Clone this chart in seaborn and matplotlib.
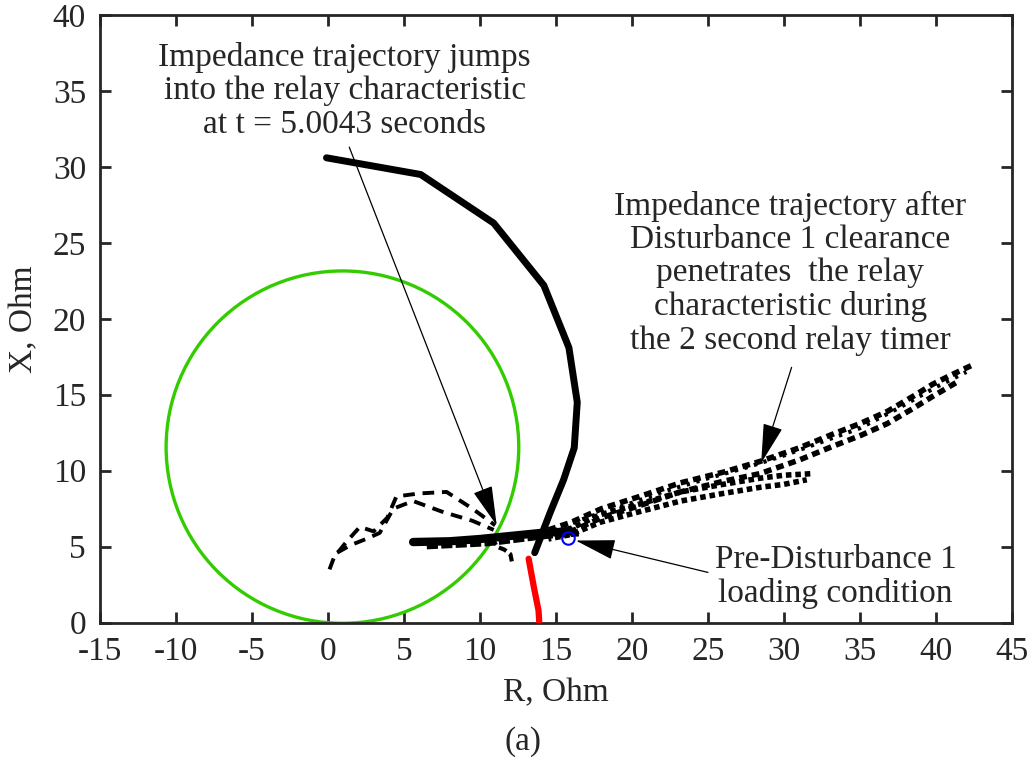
import numpy as np
import pandas as pd
import matplotlib
matplotlib.use("Agg")
import matplotlib.pyplot as plt
import seaborn as sns
from matplotlib.patches import Circle

sns.set_style("ticks")
plt.rcParams["font.family"] = ["Liberation Serif", "DejaVu Serif"]
plt.rcParams["axes.unicode_minus"] = False

# relay (mho) characteristic
mho_center = (0.95, 11.55)
mho_radius = 11.6

# trajectory before / during the disturbance (thick black)
traj_R = [-0.1, 6.1, 10.9, 14.2, 15.85, 16.4, 16.2, 15.5, 14.6, 13.6]
traj_X = [30.6, 29.5, 26.3, 22.2, 18.1, 14.5, 11.5, 9.4, 7.2, 4.6]

# red segment
red_R = [13.2, 13.55, 13.85, 13.9]
red_X = [4.2, 2.3, 0.8, 0.0]

# dashed branches that jump into the characteristic
dash1_R = [0.1, 0.4, 1.2, 2.1, 3.0, 3.9, 4.5, 6.0, 7.8, 9.5, 11.0]
dash1_X = [3.5, 4.3, 5.3, 6.3, 6.0, 6.9, 8.3, 8.5, 8.6, 7.5, 6.4]
dash2_R = [0.6, 1.5, 2.5, 3.4, 4.3, 5.6, 7.5, 9.5, 10.9]
dash2_X = [4.6, 5.1, 5.5, 5.9, 7.5, 8.0, 7.3, 6.7, 6.1]

# thick blob near the load point
blob_R = [5.6, 8.0, 10.0, 12.0, 14.0, 16.0]
blob_X = [5.3, 5.35, 5.5, 5.7, 5.9, 6.0]
blob2_R = [6.5, 8.5, 10.5, 12.5, 14.5, 16.5]
blob2_X = [5.0, 5.1, 5.2, 5.45, 5.7, 5.85]
squig_R = [10.8, 11.1, 11.6, 12.0, 12.1]
squig_X = [5.6, 5.0, 4.8, 4.5, 4.0]

# oscillating trajectory after clearance (upper band, three strands)
upA_R = [14.5, 16.0, 18.0, 20.5, 23.2, 26.0, 28.4, 31.0, 33.2, 35.0, 36.8, 38.5, 39.8, 41.0, 42.5]
upA_X = [6.1, 6.6, 7.5, 8.3, 9.2, 9.9, 10.6, 11.5, 12.4, 13.1, 13.9, 14.9, 15.7, 16.3, 17.0]
upB_R = [14.5, 16.0, 18.0, 20.5, 23.2, 26.0, 28.4, 31.0, 33.2, 35.0, 36.8, 38.5, 39.8, 41.5]
upB_X = [5.7, 6.0, 6.9, 7.7, 8.6, 9.3, 9.8, 10.7, 11.6, 12.3, 13.1, 14.1, 14.9, 15.9]
upC_R = [15.0, 17.0, 19.5, 22.0, 25.0, 27.5, 30.0, 32.5, 35.0, 37.5, 40.0, 42.0]
upC_X = [6.1, 6.9, 7.7, 8.6, 9.5, 10.2, 11.0, 11.9, 12.8, 14.1, 15.5, 16.5]

# lower band
loA_R = [14.5, 16.0, 17.9, 20.5, 23.2, 26.0, 28.4, 30.0, 31.8]
loA_X = [5.9, 6.2, 7.1, 7.8, 8.6, 9.1, 9.5, 9.7, 9.8]
loB_R = [14.5, 16.0, 17.9, 20.5, 23.2, 26.0, 28.4, 30.0, 31.5]
loB_X = [5.5, 5.8, 6.6, 7.3, 8.0, 8.5, 8.9, 9.1, 9.4]

# pre-disturbance load point
load_R = [15.8]
load_X = [5.56]

fig = plt.figure(figsize=(10.32, 7.63), dpi=100)
ax = fig.add_axes([0.0969, 0.1841, 0.8837, 0.7962])

ax.add_patch(Circle(mho_center, mho_radius, fill=False, color="#33cc00", lw=2.4, zorder=2))

def line(R, X, **kw):
    d = pd.DataFrame({"R": R, "X": X})
    sns.lineplot(data=d, x="R", y="X", sort=False, estimator=None, ax=ax, **kw)

line(traj_R, traj_X, color="black", lw=5, zorder=3)
line(red_R, red_X, color="red", lw=4.5, zorder=3)
line(dash1_R, dash1_X, color="black", lw=2.8, linestyle=(0, (3, 2)), zorder=3)
line(dash2_R, dash2_X, color="black", lw=2.8, linestyle=(0, (3, 2)), zorder=3)
line(blob_R, blob_X, color="black", lw=6, zorder=3)
line(blob2_R, blob2_X, color="black", lw=4, linestyle=(0, (2, 0.6)), zorder=3)
line(squig_R, squig_X, color="black", lw=3, linestyle=(0, (2, 1)), zorder=3)
line(upA_R, upA_X, color="black", lw=4, linestyle=(0, (1.4, 0.9)), zorder=3)
line(upB_R, upB_X, color="black", lw=4, linestyle=(0.8, (1.4, 0.9)), zorder=3)
line(upC_R, upC_X, color="black", lw=3, linestyle=(0.4, (0.8, 1.6)), zorder=3)
line(loA_R, loA_X, color="black", lw=4, linestyle=(0, (1.0, 0.7)), zorder=3)
line(loB_R, loB_X, color="black", lw=4, linestyle=(0.5, (1.0, 0.7)), zorder=3)
ax.plot(load_R, load_X, "o", ms=9, mfc="none", mec="blue", mew=1.5, zorder=5)

arrow = dict(arrowstyle="-|>,head_length=1.4,head_width=0.35", color="black",
             lw=0.9, mutation_scale=18, shrinkA=0, shrinkB=0)
fs = 24
ls = 1.12
ax.annotate("", xy=(11.1, 6.4), xytext=(1.4, 31.3), arrowprops=arrow, zorder=6)
ax.text(1.1, 35.0, "Impedance trajectory jumps\ninto the relay characteristic\nat t = 5.0043 seconds",
        ha="center", va="center", fontsize=fs, linespacing=ls)
ax.annotate("", xy=(28.5, 10.5), xytext=(30.5, 16.8), arrowprops=arrow, zorder=6)
ax.text(30.4, 23.0, "Impedance trajectory after\nDisturbance 1 clearance\npenetrates  the relay\n"
        "characteristic during\nthe 2 second relay timer",
        ha="center", va="center", fontsize=fs, linespacing=ls)
ax.annotate("", xy=(16.3, 5.4), xytext=(25.0, 3.3), arrowprops=arrow, zorder=6)
ax.text(33.4, 3.0, "Pre-Disturbance 1\nloading condition",
        ha="center", va="center", fontsize=fs, linespacing=ls)

ax.set_xlim(-15, 45)
ax.set_ylim(0, 40)
ax.set_xticks(range(-15, 46, 5))
ax.set_yticks(range(0, 41, 5))
ax.tick_params(direction="in", length=8, width=2, top=True, right=True,
               labelsize=fs, pad=10)
for s in ax.spines.values():
    s.set_linewidth(2)
    s.set_visible(True)
ax.set_xlabel("R, Ohm", fontsize=fs, labelpad=8)
ax.set_ylabel("X, Ohm", fontsize=fs, labelpad=10)
fig.text(0.507, 0.008, "(a)", ha="center", va="bottom", fontsize=fs)

fig.savefig("out.png", dpi=100)
